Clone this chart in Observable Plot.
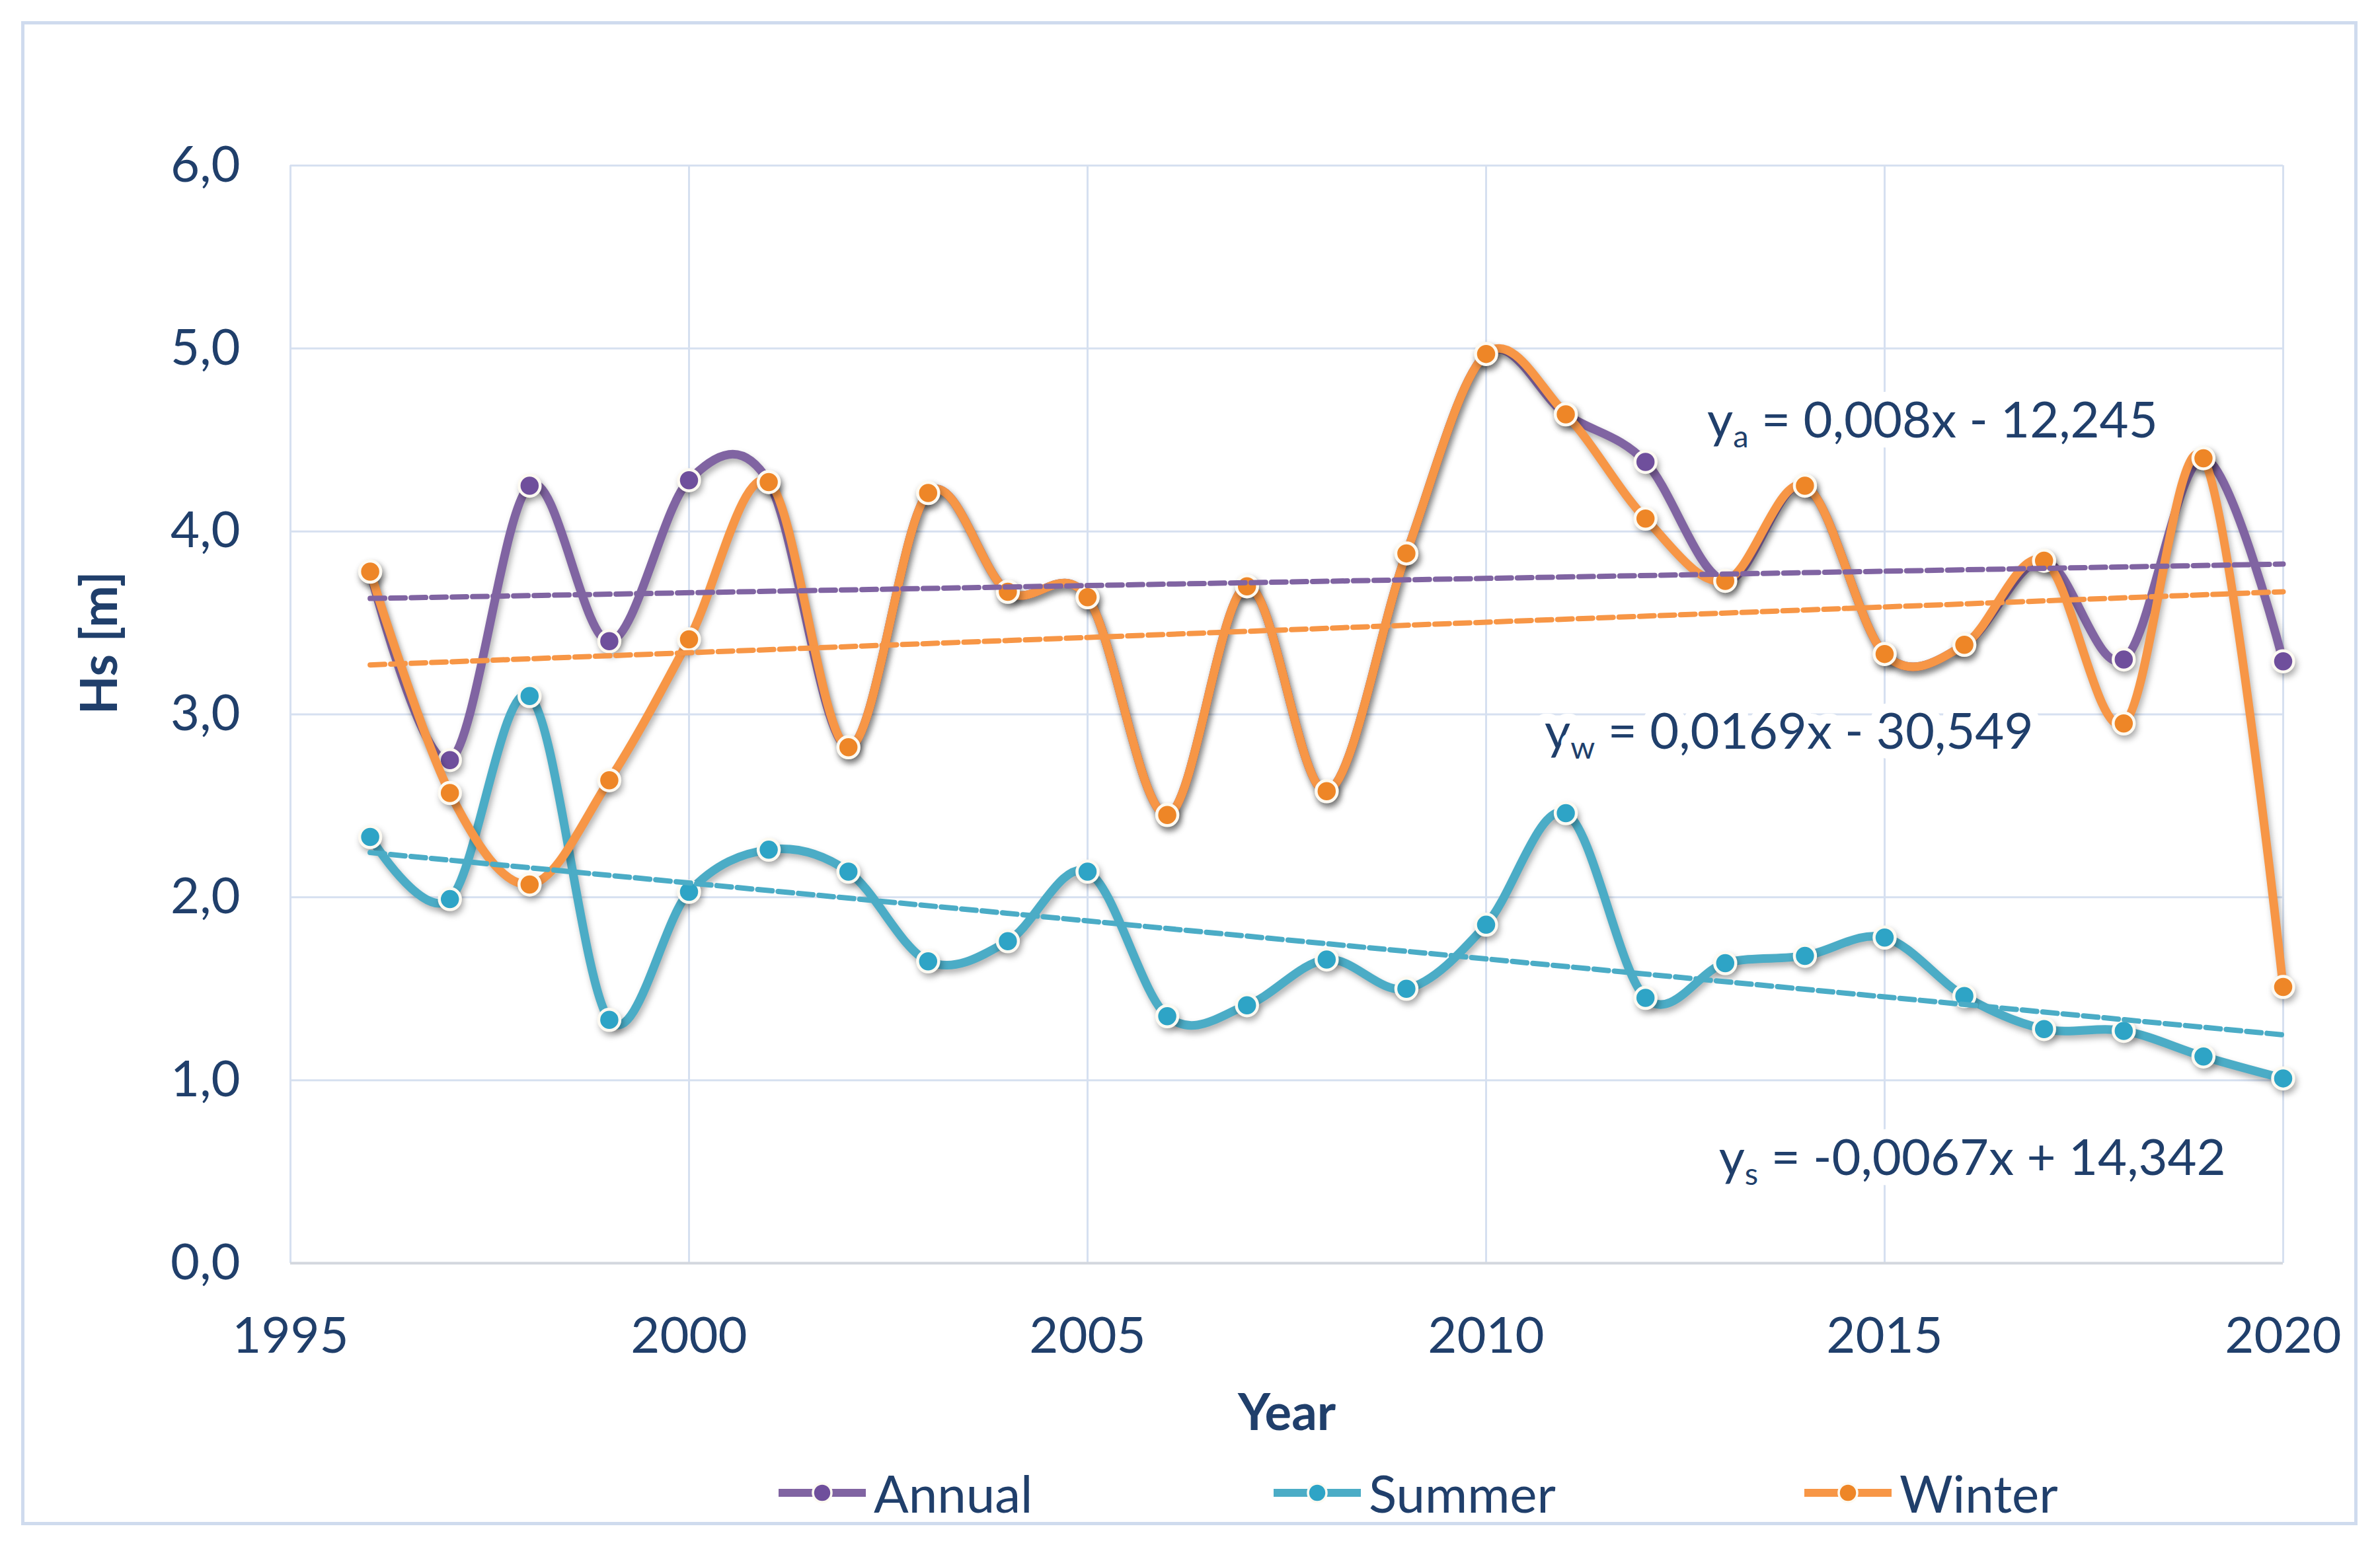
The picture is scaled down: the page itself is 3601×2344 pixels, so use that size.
<!DOCTYPE html>
<html>
<head>
<meta charset="utf-8">
<script src="https://cdn.jsdelivr.net/npm/d3@7"></script>
<script src="https://cdn.jsdelivr.net/npm/@observablehq/plot@0.6"></script>
<style>
  body { margin: 0; background: white; }
  #wrap { position: relative; width: 3601px; height: 2344px; background: white; font-family: Lato, sans-serif; color: #203f6b; }
  #frame { position: absolute; left: 32px; top: 32px; width: 3535px; height: 2276px; border: 5px solid #cfdbee; box-sizing: border-box; pointer-events: none; }
  .item { position: absolute; top: 2220px; display: flex; align-items: center; font-size: 78px; height: 78px; }
  .item svg { margin-right: 10px; }
</style>
</head>
<body>
<div id="wrap">
  <div id="chart"></div>
  <div id="legend"></div>
  <div id="frame"></div>
</div>
<script>
// valores
const years = [1996, 1997, 1998, 1999, 2000, 2001, 2002, 2003, 2004, 2005, 2006, 2007, 2008,
  2009, 2010, 2011, 2012, 2013, 2014, 2015, 2016, 2017, 2018, 2019, 2020];
const annual = [3.78, 2.75, 4.25, 3.40, 4.28, 4.27, 2.82, 4.21, 3.67, 3.64, 2.45, 3.70, 2.58,
  3.88, 4.97, 4.64, 4.38, 3.73, 4.25, 3.33, 3.38, 3.84, 3.30, 4.40, 3.29];
const summer = [2.33, 1.99, 3.10, 1.33, 2.03, 2.26, 2.14, 1.65, 1.76, 2.14, 1.35, 1.41, 1.66,
  1.50, 1.85, 2.46, 1.45, 1.64, 1.68, 1.78, 1.46, 1.28, 1.27, 1.13, 1.01];
const winter = [3.78, 2.57, 2.07, 2.64, 3.41, 4.27, 2.82, 4.21, 3.67, 3.64, 2.45, 3.70, 2.58,
  3.88, 4.97, 4.64, 4.07, 3.73, 4.25, 3.33, 3.38, 3.84, 2.95, 4.40, 1.51];

const seriesNames = ["Annual", "Summer", "Winter"];
const seriesValues = [annual, summer, winter];
const seriesColors = ["#8064a2", "#4bacc6", "#f79646"];
const markerColors = ["#6f4f9c", "#2ea4c6", "#ee8627"];

const xTicks = [1995, 2000, 2005, 2010, 2015, 2020];
const yTicks = [0, 1, 2, 3, 4, 5, 6];

// ecuaciones de tendencia (texto y posición)
const eqText = ["y_a = 0,008x - 12,245", "y_w = 0,0169x - 30,549", "y_s = -0,0067x + 14,342"];
const eqX = [2015.6, 2013.8, 2016.1];
const eqY = [4.60, 2.90, 0.57];

const textColor = "#203f6b";
const gridColor = "#d6e0f0";

const rows = seriesNames.flatMap((s, i) => years.map((yr, j) => ({serie: s, year: yr, hs: seriesValues[i][j]})));

const seriesMarks = seriesNames.flatMap((s, i) => {
  const d = rows.filter(r => r.serie === s);
  return [
    Plot.line(d, {x: "year", y: "hs", stroke: seriesColors[i], strokeWidth: 13, curve: "cardinal"}),
    Plot.dot(d, {x: "year", y: "hs", fill: markerColors[i], stroke: "#fdfaf2", strokeWidth: 4.5, r: 16})
  ];
});

const trendMarks = seriesNames.map((s, i) =>
  Plot.linearRegressionY(rows.filter(r => r.serie === s), {
    x: "year", y: "hs", stroke: seriesColors[i], strokeWidth: 8, strokeDasharray: "22,9", ci: 0
  })
);

let chart = Plot.plot({
  width: 3601,
  height: 2200,
  marginTop: 250,
  marginRight: 147,
  marginBottom: 289,
  marginLeft: 439,
  style: {fontFamily: "Lato, sans-serif", fontSize: "76px", color: textColor, background: "white", overflow: "visible"},
  x: {domain: [1995, 2020]},
  y: {domain: [0, 6]},
  marks: [
    Plot.gridX(xTicks, {stroke: gridColor, strokeOpacity: 1, strokeWidth: 3}),
    Plot.gridY(yTicks, {stroke: gridColor, strokeOpacity: 1, strokeWidth: 3}),
    Plot.ruleY([0], {stroke: "#d3d7de", strokeWidth: 4}),
    Plot.axisX(xTicks, {tickSize: 0, tickPadding: 82, tickFormat: d => String(d), label: null, fill: textColor}),
    Plot.axisY(yTicks, {tickSize: 0, tickPadding: 76, tickFormat: d => d.toFixed(1).replace(".", ","), label: null, fill: textColor}),
    Plot.text(["Year"], {frameAnchor: "bottom", dy: 252, fontWeight: "bold", fill: textColor, fontSize: 76}),
    Plot.text(["Hs [m]"], {frameAnchor: "left", dx: -287, rotate: -90, fontWeight: "bold", fill: textColor, fontSize: 76}),
    ...seriesMarks,
    ...trendMarks,
    Plot.text(eqText, {
      x: (d, i) => eqX[i], y: (d, i) => eqY[i], text: d => d,
      fill: textColor, stroke: "white", strokeWidth: 30, paintOrder: "stroke", strokeLinejoin: "round", fontSize: 76
    })
  ]
});

// subíndices en las ecuaciones
d3.select(chart).selectAll("text").each(function () {
  const m = /^y_(\w)(.*)$/.exec(this.textContent);
  if (!m) return;
  const t = d3.select(this).text(null);
  t.append("tspan").text("y");
  t.append("tspan").attr("font-size", "0.62em").attr("dy", 15).text(m[1]);
  t.append("tspan").attr("dy", -15).text(m[2]);
});

// sombra suave en líneas y puntos
d3.select(chart).selectAll('g[aria-label="line"], g[aria-label="dot"]')
  .style("filter", "drop-shadow(3px 6px 5px rgba(0,0,0,0.3))");

d3.select('#chart').append(() => chart);

// leyenda
const legendLeft = [1176, 1925, 2728];
const legend = d3.select('#legend');
seriesNames.forEach((s, i) => {
  const item = legend.append("div").attr("class", "item").style("left", legendLeft[i] + "px");
  const sw = item.append("svg").attr("width", 136).attr("height", 44);
  sw.append("line").attr("x1", 2).attr("x2", 134).attr("y1", 22).attr("y2", 22)
    .attr("stroke", seriesColors[i]).attr("stroke-width", 12);
  sw.append("circle").attr("cx", 68).attr("cy", 22).attr("r", 14)
    .attr("fill", markerColors[i]).attr("stroke", "#fdfaf2").attr("stroke-width", 3.5);
  item.append("span").text(s);
});
</script>
</body>
</html>
